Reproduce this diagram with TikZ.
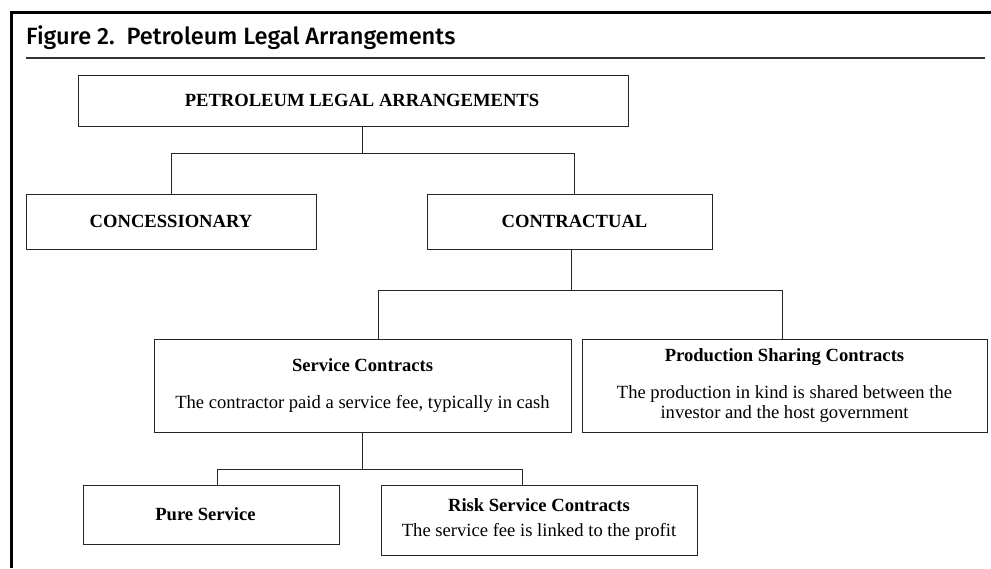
\documentclass[tikz,border=0pt]{standalone}
\usepackage{fontspec}
\setmainfont{Liberation Serif}
\newfontfamily\titlefont{Fira Sans Medium}
\tikzset{
  box/.style={draw=black!85, line width=1pt, inner sep=0pt, align=center,
    font=\fontsize{18.6}{20}\selectfont},
  link/.style={draw=black!85, line width=0.9pt},
}
\begin{document}
\begin{tikzpicture}[x=1pt,y=-1pt]
  \useasboundingbox (0,0) rectangle (991,568);
  % frame and title
  \draw[line width=3pt] (11,568) -- (11,12) -- (991,12);
  \node[anchor=base west, inner sep=0pt, font=\titlefont\fontsize{23.6}{27}\selectfont]
    (title) at (26,44) {Figure 2.\ \ Petroleum Legal Arrangements};
  \draw[line width=1.3pt, black!80] (26,58) -- (985,58);
  % boxes
  \node[box, minimum width=550, minimum height=51] (top) at (353,100.5)
    {\hspace*{18pt}\textbf{PETROLEUM LEGAL ARRANGEMENTS}};
  \node[box, minimum width=290, minimum height=55] (conc) at (171,221.5)
    {\textbf{CONCESSIONARY}};
  \node[box, minimum width=285, minimum height=55] (contr) at (569.5,221.5)
    {\hspace*{10pt}\textbf{CONTRACTUAL}};
  \node[box, minimum width=417, minimum height=93] (serv) at (362.5,385.5)
    {\textbf{Service Contracts}\\[17pt]The contractor paid a service fee, typically in cash};
  \node[box, minimum width=405, minimum height=93] (psc) at (784.5,385.5)
    {\textbf{Production Sharing Contracts}\\[17pt]The production in kind is shared between the\\investor and the host government};
  \node[box, minimum width=256, minimum height=59] (pure) at (211,514.5)
    {\textbf{Pure Service}\hspace*{11pt}};
  \node[box, minimum width=316, minimum height=70] (risk) at (539,520)
    {\textbf{Risk Service Contracts}\\[5pt]The service fee is linked to the profit};
  % connectors
  \draw[link] ([xshift=9]top.south) -- ++(0,27) coordinate (b1);
  \draw[link] (conc.north) |- (b1) -| ([xshift=4.5]contr.north);
  \draw[link] ([xshift=1.5]contr.south) -- ++(0,41) coordinate (b2);
  \draw[link] ([xshift=15.5]serv.north) |- (b2) -| ([xshift=-2.5]psc.north);
  \draw[link] (serv.south) -- ++(0,37) coordinate (b3);
  \draw[link] ([xshift=6]pure.north) |- (b3) -| ([xshift=-17]risk.north);
\end{tikzpicture}
\end{document}
